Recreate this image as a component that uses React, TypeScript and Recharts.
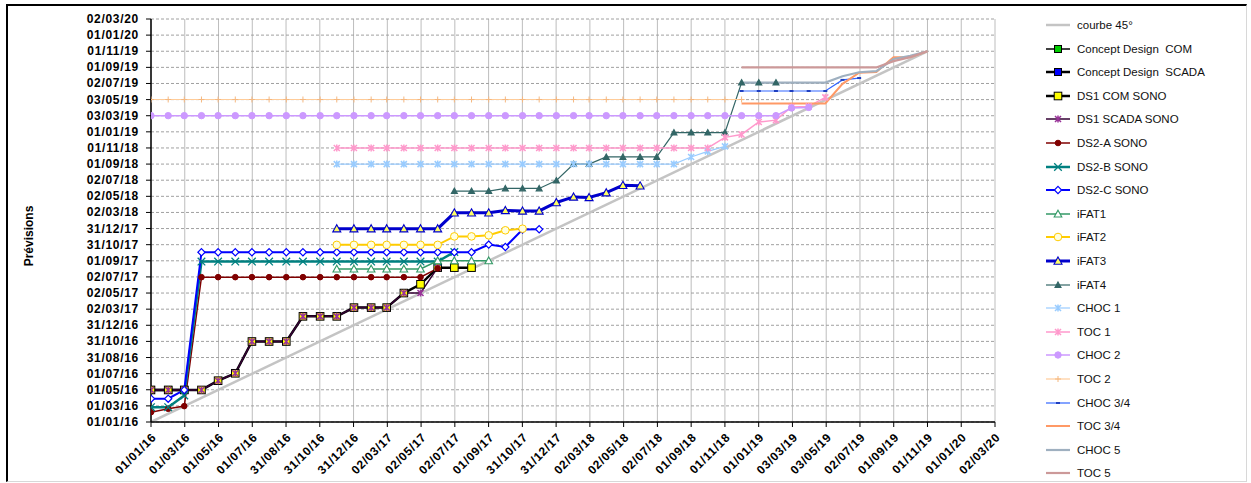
import React from 'react';
import { LineChart, Line, XAxis, YAxis, CartesianGrid } from 'recharts';

// report dates (one per month) on the x axis
const months = [
  '01/01/16', '01/02/16', '01/03/16', '01/04/16', '01/05/16', '01/06/16', '01/07/16', '01/08/16', '01/09/16', '01/10/16', '01/11/16', '01/12/16',
  '01/01/17', '01/02/17', '01/03/17', '01/04/17', '01/05/17', '01/06/17', '01/07/17', '01/08/17', '01/09/17', '01/10/17', '01/11/17', '01/12/17',
  '01/01/18', '01/02/18', '01/03/18', '01/04/18', '01/05/18', '01/06/18', '01/07/18', '01/08/18', '01/09/18', '01/10/18', '01/11/18', '01/12/18',
  '01/01/19', '01/02/19', '01/03/19', '01/04/19', '01/05/19', '01/06/19', '01/07/19', '01/08/19', '01/09/19', '01/10/19', '01/11/19',
];

// axis labels, same on both axes
const tickLabels = [
  '01/01/16', '01/03/16', '01/05/16', '01/07/16', '31/08/16', '31/10/16', '31/12/16', '02/03/17', '02/05/17',
  '02/07/17', '01/09/17', '31/10/17', '31/12/17', '02/03/18', '02/05/18', '02/07/18', '01/09/18', '01/11/18',
  '01/01/19', '03/03/19', '03/05/19', '02/07/19', '01/09/19', '01/11/19', '01/01/20', '02/03/20',
];

// forecast dates per series, starting at months[start]
const courbeReports = ['01/01/16', '01/11/19'];
const courbeForecast = ['01/01/16', '01/11/19'];
const conceptCom = ['01/05/16', '01/05/16', '01/05/16'];
const conceptScada = ['01/05/16', '01/05/16', '01/05/16'];
const ds1Com = [
  '01/05/16', '01/05/16', '01/05/16', '01/05/16', '05/06/16', '03/07/16', '31/10/16', '31/10/16', '31/10/16', '03/02/17',
  '03/02/17', '03/02/17', '08/03/17', '08/03/17', '08/03/17', '02/05/17', '04/06/17', '06/08/17', '06/08/17', '06/08/17',
];
const ds1Scada = [
  '01/05/16', '01/05/16', '01/05/16', '01/05/16', '05/06/16', '03/07/16', '31/10/16', '31/10/16', '31/10/16', '03/02/17',
  '03/02/17', '03/02/17', '08/03/17', '08/03/17', '08/03/17', '02/05/17', '02/05/17', '06/08/17',
];
const ds2A = [
  '07/02/16', '20/02/16', '01/03/16', '01/07/17', '01/07/17', '01/07/17', '01/07/17', '01/07/17', '01/07/17', '01/07/17',
  '01/07/17', '01/07/17', '01/07/17', '01/07/17', '01/07/17', '01/07/17', '01/07/17', '03/08/17',
];
const ds2B = [
  '26/02/16', '26/02/16', '10/04/16', '29/08/17', '29/08/17', '29/08/17', '29/08/17', '29/08/17', '29/08/17', '29/08/17',
  '29/08/17', '29/08/17', '29/08/17', '29/08/17', '29/08/17', '29/08/17', '29/08/17', '29/08/17', '04/10/17',
];
const ds2C = [
  '29/03/16', '29/03/16', '01/05/16', '03/10/17', '03/10/17', '03/10/17', '03/10/17', '03/10/17', '03/10/17', '03/10/17',
  '03/10/17', '03/10/17', '03/10/17', '03/10/17', '03/10/17', '03/10/17', '03/10/17', '03/10/17', '03/10/17', '03/10/17',
  '01/11/17', '23/10/17', '28/12/17', '29/12/17',
];
const ifat1 = ['01/08/17', '01/08/17', '01/08/17', '01/08/17', '01/08/17', '01/08/17', '01/09/17', '01/09/17', '01/09/17', '01/09/17'];
const ifat2 = [
  '31/10/17', '31/10/17', '31/10/17', '31/10/17', '31/10/17', '31/10/17', '31/10/17', '02/12/17', '02/12/17', '06/12/17',
  '25/12/17', '31/12/17',
];
const ifat3 = [
  '31/12/17', '31/12/17', '31/12/17', '31/12/17', '31/12/17', '31/12/17', '31/12/17', '01/03/18', '01/03/18', '01/03/18',
  '10/03/18', '08/03/18', '08/03/18', '09/04/18', '30/04/18', '28/04/18', '16/05/18', '13/06/18', '11/06/18',
];
const ifat4 = [
  '22/05/18', '22/05/18', '22/05/18', '01/06/18', '01/06/18', '01/06/18', '01/07/18', '01/09/18', '01/09/18', '28/09/18',
  '28/09/18', '28/09/18', '28/09/18', '29/12/18', '29/12/18', '29/12/18', '29/12/18', '06/07/19', '06/07/19', '06/07/19',
];
const choc1 = [
  '01/09/18', '01/09/18', '01/09/18', '01/09/18', '01/09/18', '01/09/18', '01/09/18', '01/09/18', '01/09/18', '01/09/18',
  '01/09/18', '01/09/18', '01/09/18', '01/09/18', '01/09/18', '01/09/18', '01/09/18', '01/09/18', '01/09/18', '01/09/18',
  '01/09/18', '28/09/18', '19/10/18', '07/11/18',
];
const toc1 = [
  '01/11/18', '01/11/18', '01/11/18', '01/11/18', '01/11/18', '01/11/18', '01/11/18', '01/11/18', '01/11/18', '01/11/18',
  '01/11/18', '01/11/18', '01/11/18', '01/11/18', '01/11/18', '01/11/18', '01/11/18', '01/11/18', '01/11/18', '01/11/18',
  '01/11/18', '01/11/18', '01/11/18', '11/12/18', '22/12/18', '07/02/19', '14/02/19', '05/04/19', '07/04/19', '11/05/19',
];
const choc2 = [
  '03/03/19', '03/03/19', '03/03/19', '03/03/19', '03/03/19', '03/03/19', '03/03/19', '03/03/19', '03/03/19', '03/03/19',
  '03/03/19', '03/03/19', '03/03/19', '03/03/19', '03/03/19', '03/03/19', '03/03/19', '03/03/19', '03/03/19', '03/03/19',
  '03/03/19', '03/03/19', '03/03/19', '03/03/19', '03/03/19', '03/03/19', '03/03/19', '03/03/19', '03/03/19', '03/03/19',
  '03/03/19', '03/03/19', '03/03/19', '03/03/19', '03/03/19', '03/03/19', '03/03/19', '03/03/19', '01/04/19', '03/04/19',
];
const toc2 = [
  '03/05/19', '03/05/19', '03/05/19', '03/05/19', '03/05/19', '03/05/19', '03/05/19', '03/05/19', '03/05/19', '03/05/19',
  '03/05/19', '03/05/19', '03/05/19', '03/05/19', '03/05/19', '03/05/19', '03/05/19', '03/05/19', '03/05/19', '03/05/19',
  '03/05/19', '03/05/19', '03/05/19', '03/05/19', '03/05/19', '03/05/19', '03/05/19', '03/05/19', '03/05/19', '03/05/19',
  '03/05/19', '03/05/19', '03/05/19', '03/05/19', '03/05/19', '03/05/19',
];
const choc34 = ['04/06/19', '04/06/19', '04/06/19', '04/06/19', '04/06/19', '04/06/19', '16/07/19', '23/07/19'];
const toc34 = ['18/04/19', '18/04/19', '18/04/19', '18/04/19', '18/04/19', '18/04/19', '01/07/19', '12/08/19', '15/08/19', '10/10/19', '10/10/19', '01/11/19'];
const choc5 = ['06/07/19', '06/07/19', '06/07/19', '06/07/19', '06/07/19', '06/07/19', '30/07/19', '14/08/19', '18/08/19', '03/10/19', '15/10/19', '01/11/19'];
const toc5 = ['01/09/19', '01/09/19', '01/09/19', '01/09/19', '01/09/19', '01/09/19', '01/09/19', '01/09/19', '01/09/19', '25/09/19', '10/10/19', '01/11/19'];

const FONT = '"Liberation Sans", Arial, sans-serif';
const DAY = 86400000;
const toDay = (s: string) => {
  const [d, m, y] = s.split('/').map(Number);
  return (Date.UTC(2000 + y, m - 1, d) - Date.UTC(2016, 0, 1)) / DAY;
};
const MAX = toDay(tickLabels[tickLabels.length - 1]);
const STEP = MAX / (tickLabels.length - 1);
const ticks = tickLabels.map((_, i) => i * STEP);

const pts = (start: number, values: string[]) =>
  values.map((v, i) => ({ x: toDay(months[start + i]), y: toDay(v) }));

type Kind = 'none' | 'square' | 'diamond' | 'triangle' | 'circle' | 'x' | 'star' | 'plus' | 'dash';

interface SeriesDef {
  name: string;
  data: { x: number; y: number }[];
  stroke: string;
  width: number;
  kind: Kind;
  fill?: string;
  mstroke?: string;
  size?: number;
}

const series: SeriesDef[] = [
  { name: 'courbe 45°', data: courbeReports.map((r, i) => ({ x: toDay(r), y: toDay(courbeForecast[i]) })), stroke: '#c4c4c4', width: 2.5, kind: 'none' },
  { name: 'Concept Design  COM', data: pts(0, conceptCom), stroke: '#000', width: 1.5, kind: 'square', fill: '#00cc00', mstroke: '#000', size: 3.5 },
  { name: 'Concept Design  SCADA', data: pts(0, conceptScada), stroke: '#000', width: 2.5, kind: 'square', fill: '#0000ff', mstroke: '#000', size: 3.5 },
  { name: 'DS1 COM SONO', data: pts(0, ds1Com), stroke: '#000', width: 2.5, kind: 'square', fill: '#ffff00', mstroke: '#000', size: 3.8 },
  { name: 'DS1 SCADA SONO', data: pts(0, ds1Scada), stroke: '#330033', width: 1.5, kind: 'star', fill: '#993399', mstroke: '#993399', size: 3 },
  { name: 'DS2-A SONO', data: pts(0, ds2A), stroke: '#800000', width: 1.5, kind: 'circle', fill: '#800000', mstroke: '#800000', size: 2.8 },
  { name: 'DS2-B SONO', data: pts(0, ds2B), stroke: '#008080', width: 2.5, kind: 'x', fill: '#008080', mstroke: '#008080', size: 3.8 },
  { name: 'DS2-C SONO', data: pts(0, ds2C), stroke: '#0000ff', width: 2, kind: 'diamond', fill: '#fff', mstroke: '#0000ff', size: 3.6 },
  { name: 'iFAT1', data: pts(11, ifat1), stroke: '#339966', width: 1.5, kind: 'triangle', fill: '#fff', mstroke: '#339966', size: 3.8 },
  { name: 'iFAT2', data: pts(11, ifat2), stroke: '#ffcc00', width: 2, kind: 'circle', fill: '#ffffe0', mstroke: '#ffcc00', size: 3.8 },
  { name: 'iFAT3', data: pts(11, ifat3), stroke: '#0000cc', width: 3, kind: 'triangle', fill: '#ffff66', mstroke: '#0000cc', size: 4 },
  { name: 'iFAT4', data: pts(18, ifat4), stroke: '#336666', width: 1.2, kind: 'triangle', fill: '#336666', mstroke: '#336666', size: 3 },
  { name: 'CHOC 1', data: pts(11, choc1), stroke: '#99ccff', width: 1.2, kind: 'star', fill: '#99ccff', mstroke: '#99ccff', size: 3 },
  { name: 'TOC 1', data: pts(11, toc1), stroke: '#ff99cc', width: 1.5, kind: 'star', fill: '#ff99cc', mstroke: '#ff99cc', size: 3 },
  { name: 'CHOC 2', data: pts(0, choc2), stroke: '#cc99ff', width: 1.5, kind: 'circle', fill: '#cc99ff', mstroke: '#cc99ff', size: 3.2 },
  { name: 'TOC 2', data: pts(0, toc2), stroke: '#ffcc99', width: 1.2, kind: 'plus', fill: '#ffcc99', mstroke: '#f5b880', size: 3 },
  { name: 'CHOC 3/4', data: pts(35, choc34), stroke: '#3366ff', width: 1.2, kind: 'dash', fill: '#3366ff', mstroke: '#1f3fbf', size: 2 },
  { name: 'TOC 3/4', data: pts(35, toc34), stroke: '#ff9966', width: 2, kind: 'none' },
  { name: 'CHOC 5', data: pts(35, choc5), stroke: '#9fb0c0', width: 2.2, kind: 'none' },
  { name: 'TOC 5', data: pts(35, toc5), stroke: '#cc9999', width: 2.2, kind: 'none' },
];

function Marker({ cx, cy, kind, fill, stroke, size = 3 }: { cx: number; cy: number; kind: Kind; fill?: string; stroke?: string; size?: number }) {
  if (cx == null || cy == null || kind === 'none') return null;
  const s = size;
  switch (kind) {
    case 'square':
      return <rect x={cx - s} y={cy - s} width={2 * s} height={2 * s} fill={fill} stroke={stroke} strokeWidth={1} />;
    case 'diamond':
      return <polygon points={`${cx},${cy - s} ${cx + s},${cy} ${cx},${cy + s} ${cx - s},${cy}`} fill={fill} stroke={stroke} strokeWidth={1.2} />;
    case 'triangle':
      return <polygon points={`${cx},${cy - s} ${cx + s},${cy + s * 0.8} ${cx - s},${cy + s * 0.8}`} fill={fill} stroke={stroke} strokeWidth={1.1} />;
    case 'circle':
      return <circle cx={cx} cy={cy} r={s} fill={fill} stroke={stroke} strokeWidth={1} />;
    case 'x':
      return <path d={`M${cx - s},${cy - s}L${cx + s},${cy + s}M${cx + s},${cy - s}L${cx - s},${cy + s}`} stroke={stroke} strokeWidth={1.3} fill="none" />;
    case 'star':
      return <path d={`M${cx - s},${cy - s}L${cx + s},${cy + s}M${cx + s},${cy - s}L${cx - s},${cy + s}M${cx},${cy - s - 0.5}L${cx},${cy + s + 0.5}`} stroke={stroke} strokeWidth={1.5} fill="none" />;
    case 'plus':
      return <path d={`M${cx - s},${cy}L${cx + s},${cy}M${cx},${cy - s}L${cx},${cy + s}`} stroke={stroke} strokeWidth={1} fill="none" />;
    case 'dash':
      return <path d={`M${cx - s},${cy}L${cx + s},${cy}`} stroke={stroke} strokeWidth={2} fill="none" />;
    default:
      return null;
  }
}

const XTick = ({ x, y, payload }: any) => (
  <g transform={`translate(${x + 6},${y + 9}) rotate(-45)`}>
    <text textAnchor="end" fontFamily={FONT} fontSize={12} fontWeight={700} letterSpacing={0.7} fill="#000">
      {tickLabels[Math.round(payload.value / STEP)]}
    </text>
  </g>
);

const YTick = ({ x, y, payload }: any) => (
  <text x={x} y={y} dy={4} textAnchor="end" fontFamily={FONT} fontSize={12} fontWeight={700} letterSpacing={0.7} fill="#000">
    {tickLabels[Math.round(payload.value / STEP)]}
  </text>
);

function LegendBox() {
  return (
    <div style={{ position: 'absolute', left: 1040, top: 0, width: 200 }}>
      {series.map((s, i) => (
        <div key={s.name} style={{ position: 'absolute', left: 0, top: 25 + i * 23.6 - 8, height: 16, width: 200, display: 'flex', alignItems: 'center' }}>
          <svg width={32} height={16} style={{ flex: 'none' }}>
            <line x1={6} y1={8} x2={30} y2={8} stroke={s.stroke} strokeWidth={s.width} />
            <Marker cx={18} cy={8} kind={s.kind} fill={s.fill} stroke={s.mstroke} size={s.size} />
          </svg>
          <span style={{ marginLeft: 5, fontFamily: FONT, fontSize: 11.5, color: '#111', whiteSpace: 'pre' }}>{s.name}</span>
        </div>
      ))}
    </div>
  );
}

export default function App() {
  return (
    <div style={{ position: 'absolute', left: 0, top: 0, width: 1251, height: 483, background: '#fff', overflow: 'hidden' }}>
      <div
        style={{
          position: 'absolute', left: 6, top: 4, width: 1238, height: 475,
          borderTop: '2px solid #000', borderLeft: '2px solid #000',
          borderRight: '1px solid #d8d8d8', borderBottom: '1px solid #d8d8d8',
        }}
      />
      <div
        style={{
          position: 'absolute', left: 29, top: 236, transform: 'translate(-50%, -50%) rotate(-90deg)',
          fontFamily: FONT, fontSize: 12, fontWeight: 700, color: '#000', whiteSpace: 'nowrap',
        }}
      >
        Prévisions
      </div>
      <div style={{ position: 'absolute', left: 0, top: 0 }}>
        <LineChart width={1251} height={483} margin={{ top: 19, right: 256, bottom: 0, left: 0 }}>
          <CartesianGrid horizontal={false} stroke="#bdbdbd" strokeWidth={1} />
          <CartesianGrid vertical={false} stroke="#a0a0a0" strokeDasharray="3 2" strokeWidth={1} />
          <XAxis
            type="number" dataKey="x" domain={[0, MAX]} ticks={ticks} interval={0} allowDataOverflow
            height={61} tickSize={5} tick={<XTick />}
            axisLine={{ stroke: '#000', strokeWidth: 1.5 }} tickLine={{ stroke: '#000' }}
          />
          <YAxis
            type="number" dataKey="y" domain={[0, MAX]} ticks={ticks} interval={0} allowDataOverflow
            width={151} tickSize={5} tickMargin={7} tick={<YTick />}
            axisLine={{ stroke: '#000', strokeWidth: 1.5 }} tickLine={{ stroke: '#000' }}
          />
          {series.map((s) => (
            <Line
              key={s.name}
              data={s.data}
              dataKey="y"
              type="linear"
              stroke={s.stroke}
              strokeWidth={s.width}
              isAnimationActive={false}
              activeDot={false}
              dot={(p: any) => (
                <Marker key={`${s.name}-${p.index}`} cx={p.cx} cy={p.cy} kind={s.kind} fill={s.fill} stroke={s.mstroke} size={s.size} />
              )}
            />
          ))}
        </LineChart>
      </div>
      <LegendBox />
    </div>
  );
}
